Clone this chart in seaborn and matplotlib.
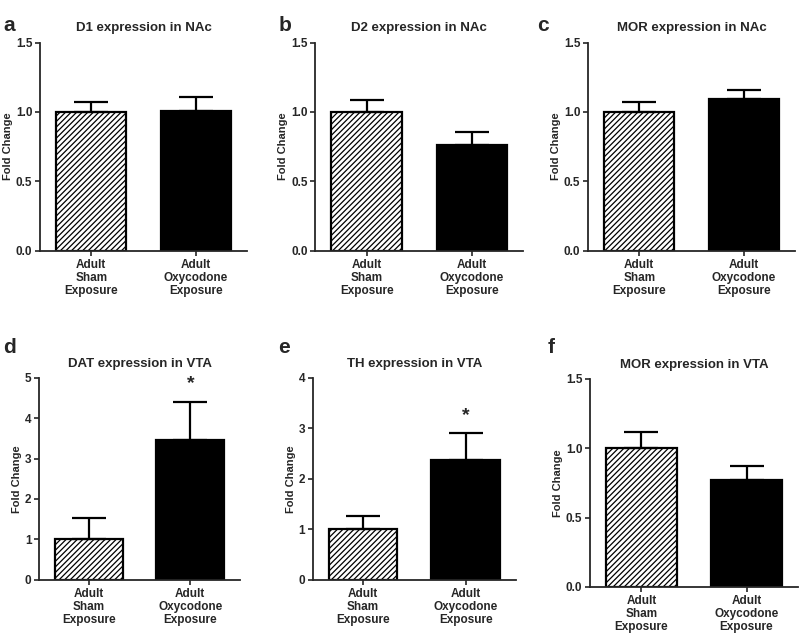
import numpy as np
import pandas as pd
import seaborn as sns
import matplotlib.pyplot as plt

# Daten (Mittelwert + SEM)
groups = ["Adult\nSham\nExposure", "Adult\nOxycodone\nExposure"]
letters = ["a", "b", "c", "d", "e", "f"]
titles = ["D1 expression in NAc", "D2 expression in NAc", "MOR expression in NAc",
          "DAT expression in VTA", "TH expression in VTA", "MOR expression in VTA"]
means = [[1.00, 1.01], [1.00, 0.76], [1.00, 1.09], [1.00, 3.46], [1.00, 2.38], [1.00, 0.77]]
sems = [[0.07, 0.10], [0.085, 0.095], [0.07, 0.065], [0.54, 0.95], [0.26, 0.52], [0.12, 0.105]]
ymax = [1.5, 1.5, 1.5, 5, 4, 1.5]
ystep = [0.5, 0.5, 0.5, 1, 1, 0.5]
stars = [None, None, None, 4.85, 3.25, None]

sns.set_theme(style="ticks")
plt.rcParams['font.family'] = ['Liberation Sans', 'DejaVu Sans']
plt.rcParams['font.weight'] = 'bold'
plt.rcParams['hatch.linewidth'] = 0.9

fig = plt.figure(figsize=(8, 6.35), dpi=100)

# Achsenpositionen [links, unten, breite, hoehe]
boxes = [[0.050, 0.605, 0.259, 0.328], [0.394, 0.605, 0.260, 0.328], [0.735, 0.605, 0.259, 0.328],
         [0.049, 0.087, 0.251, 0.318], [0.391, 0.087, 0.254, 0.318], [0.7375, 0.0756, 0.260, 0.3276]]
letter_pos = [(0.004, 0.975), (0.348, 0.975), (0.671, 0.975),
              (0.004, 0.467), (0.348, 0.467), (0.684, 0.467)]

for i in range(6):
    ax = fig.add_axes(boxes[i])
    df = pd.DataFrame({"group": groups, "value": means[i]})
    sns.barplot(data=df, x="group", y="value", hue="group",
                palette={groups[0]: "white", groups[1]: "black"},
                edgecolor="black", linewidth=1.6, width=0.67,
                errorbar=None, legend=False, ax=ax)
    ax.patches[0].set_hatch("//////")
    ax.errorbar(x=[0, 1], y=means[i], yerr=[[0, 0], sems[i]], fmt="none",
                ecolor="black", elinewidth=1.6, capsize=12, capthick=1.6, zorder=1)
    if stars[i] is not None:
        ax.text(1, stars[i], "*", ha="center", va="center", fontsize=14, fontweight="bold")

    ax.set_xlim(-0.49, 1.49)
    ax.set_ylim(0, ymax[i])
    ax.set_yticks(np.arange(0, ymax[i] + ystep[i] / 2, ystep[i]))
    if ystep[i] < 1:
        ax.set_yticklabels([f"{t:.1f}" for t in ax.get_yticks()])
    else:
        ax.set_yticklabels([f"{int(t)}" for t in ax.get_yticks()])
    ax.tick_params(axis="y", length=3.5, width=1.2, labelsize=8.5, pad=2)
    ax.tick_params(axis="x", length=3.5, width=1.2, labelsize=8.5, pad=2.5)
    for lbl in ax.get_xticklabels():
        lbl.set_linespacing(1.1)
    ax.set_xlabel("")
    ax.set_ylabel("Fold Change", fontsize=8, fontweight="bold", labelpad=2)
    ax.set_title(titles[i], fontsize=9.5, fontweight="bold", pad=8)
    for sp in ["left", "bottom"]:
        ax.spines[sp].set_linewidth(1.3)
    sns.despine(ax=ax)
    fig.text(letter_pos[i][0], letter_pos[i][1], letters[i], fontsize=15,
             fontweight="bold", va="top", ha="left")

plt.savefig("out.png", dpi=100)
